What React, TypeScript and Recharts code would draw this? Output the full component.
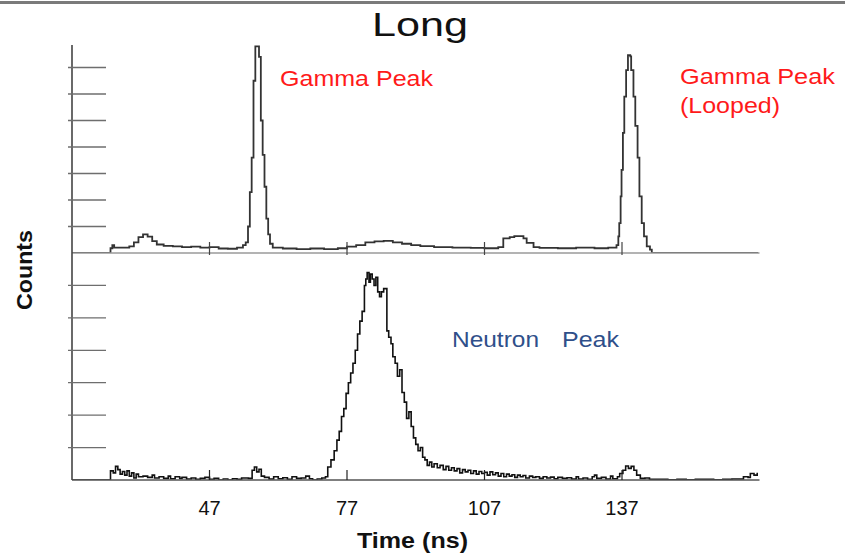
import React from 'react';
import { LineChart, Line, XAxis, YAxis } from 'recharts';

// ---- axis ticks ----
const timeTicks = [47, 77, 107, 137];
const timeDomain: [number, number] = [17, 167];
const gammaCountTicks = [1, 2, 3, 4, 5, 6, 7];
const neutronCountTicks = [1, 2, 3, 4, 5, 6];

// ---- top panel: gamma spectrum (time ns, counts in tick units) ----
const gammaPoints: [number, number][] = [
  [17, 0], [25.4, 0.18], [25.8, 0.3], [26.2, 0.2], [28, 0.2], [29.5, 0.25], [30.5, 0.4],
  [31.5, 0.6], [32.5, 0.7], [33.5, 0.62], [34.5, 0.45], [35.5, 0.32], [37, 0.27], [39, 0.25],
  [41, 0.22], [43, 0.24], [45, 0.2], [47, 0.22], [49, 0.17], [51, 0.16], [53, 0.2], [54.3, 0.3],
  [54.9, 0.4], [55.4, 1.0], [55.8, 2.3], [56.2, 3.6], [56.6, 6.5], [57.0, 7.8], [57.4, 7.8],
  [57.8, 7.4], [58.2, 5.0], [58.6, 3.7], [59.0, 2.5], [59.4, 1.3], [59.8, 0.7], [60.2, 0.35],
  [60.8, 0.2], [63, 0.17], [66, 0.15], [69, 0.17], [72, 0.15], [75, 0.18], [77, 0.24],
  [79, 0.3], [81, 0.4], [83, 0.44], [85, 0.46], [87, 0.4], [89, 0.35], [91, 0.3], [93, 0.26],
  [96, 0.22], [100, 0.2], [104, 0.19], [107, 0.18], [110, 0.22], [111.1, 0.55], [112.5, 0.6],
  [113.5, 0.64], [115.5, 0.55], [116.2, 0.38], [117.7, 0.22], [119, 0.19], [123, 0.18],
  [127, 0.2], [131, 0.18], [134, 0.2], [135.8, 0.3], [136.2, 0.63], [136.4, 1.13], [136.7, 2.14],
  [136.9, 3.14], [137.2, 4.53], [137.5, 5.9], [137.9, 6.9], [138.3, 7.47], [138.8, 7.42],
  [139.0, 6.9], [139.5, 5.9], [139.9, 4.8], [140.4, 3.6], [140.8, 2.14], [141.3, 1.13],
  [141.8, 0.63], [142.4, 0.25], [143.1, 0.13], [143.5, 0], [166.7, 0],
];

// ---- bottom panel: neutron spectrum ----
const neutronPoints: [number, number][] = [
  [17, 0], [25.4, 0.28], [26.0, 0.22], [26.5, 0.42], [27.0, 0.32], [27.5, 0.18], [28.0, 0.26],
  [28.5, 0.15], [29.0, 0.28], [29.5, 0.12], [30.0, 0.22], [30.5, 0.06], [31.0, 0.18], [31.5, 0.1],
  [32.5, 0.12], [33.5, 0.08], [34.5, 0.15], [35.0, 0.06], [36.0, 0.1], [37.0, 0.05], [38.0, 0.12],
  [38.5, 0.04], [39.5, 0.1], [40.5, 0.05], [41.0, 0.08], [42.0, 0.03], [43.0, 0.06], [44.0, 0.02],
  [45.0, 0.05], [46.0, 0.08], [47.0, 0.02], [48.0, 0.05], [49.0, 0.0], [50.0, 0.03], [51.0, 0.0],
  [52.0, 0.04], [53.0, 0.02], [54.0, 0.06], [55.5, 0.05], [56.3, 0.3], [56.8, 0.4], [57.3, 0.25],
  [57.8, 0.33], [58.3, 0.12], [59.0, 0.08], [60.0, 0.03], [61.0, 0.1], [62.0, 0.04], [63.0, 0.07],
  [64.0, 0.02], [65.0, 0.1], [66.0, 0.05], [67.0, 0.06], [68.0, 0.12], [68.8, 0.04], [69.5, 0.0],
  [70.5, 0.03], [71.5, 0.06], [72.3, 0.1], [72.8, 0.4], [73.5, 0.62], [74.2, 0.9], [74.8, 1.23],
  [75.3, 1.5], [75.8, 1.96], [76.3, 2.2], [76.8, 2.67], [77.3, 3.0], [77.8, 3.3], [78.3, 3.6],
  [78.8, 4.0], [79.3, 4.5], [79.8, 4.9], [80.3, 5.2], [80.8, 6.0], [81.1, 6.2], [81.4, 6.4],
  [81.8, 6.1], [82.1, 6.35], [82.5, 6.2], [82.9, 6.0], [83.3, 6.25], [83.7, 5.8], [84.1, 5.65],
  [84.5, 5.8], [85.0, 5.9], [85.7, 4.6], [86.1, 4.4], [86.6, 4.2], [87.0, 3.8], [87.5, 3.6],
  [88.0, 3.2], [88.5, 3.4], [89.0, 2.7], [89.5, 2.4], [90.0, 1.9], [90.5, 2.1], [91.0, 1.65],
  [91.5, 1.3], [92.0, 1.1], [92.5, 0.9], [93.0, 1.0], [93.5, 0.7], [94.0, 0.62], [94.5, 0.45],
  [95.0, 0.55], [95.5, 0.4], [96.0, 0.5], [96.7, 0.38], [97.3, 0.45], [98.0, 0.32], [98.6, 0.42],
  [99.2, 0.3], [99.8, 0.38], [100.4, 0.28], [101.0, 0.35], [101.6, 0.22], [102.2, 0.32],
  [102.8, 0.25], [103.4, 0.3], [104.0, 0.2], [104.6, 0.28], [105.2, 0.18], [105.8, 0.26],
  [106.4, 0.2], [107.0, 0.24], [107.6, 0.15], [108.2, 0.25], [108.8, 0.16], [109.4, 0.22],
  [110.0, 0.12], [110.6, 0.2], [111.2, 0.1], [111.8, 0.18], [112.4, 0.12], [113.0, 0.16],
  [113.6, 0.08], [114.2, 0.15], [114.8, 0.1], [115.4, 0.14], [116.0, 0.06], [116.8, 0.12],
  [117.5, 0.08], [118.2, 0.1], [119.0, 0.05], [119.8, 0.1], [120.6, 0.06], [121.4, 0.09],
  [122.2, 0.04], [123.0, 0.08], [124.0, 0.05], [125.0, 0.07], [126.0, 0.03], [127.0, 0.1],
  [127.5, 0.03], [128.5, 0.06], [129.5, 0.02], [130.5, 0.1], [131.0, 0.15], [131.5, 0.05],
  [132.5, 0.08], [133.5, 0.03], [134.5, 0.12], [135.0, 0.04], [136.0, 0.1], [136.5, 0.2],
  [137.2, 0.3], [137.8, 0.43], [138.4, 0.36], [139.0, 0.42], [139.6, 0.3], [140.2, 0.15],
  [141.0, 0.05], [142.0, 0.06], [143.0, 0.02], [145.0, 0.02], [147.0, 0.01], [149.0, 0.02],
  [151.0, 0.01], [153.0, 0.02], [155.0, 0.02], [157.0, 0.01], [159.0, 0.02], [161.0, 0.03],
  [162.5, 0.03], [163.5, 0.1], [164.5, 0.08], [165.0, 0.2], [165.8, 0.15], [166.5, 0.22],
];

const gammaData = gammaPoints.map(([t, c]) => ({ t, c }));
const neutronData = neutronPoints.map(([t, c]) => ({ t, c }));

const FONT = '"Liberation Sans", Arial, Helvetica, sans-serif';
const W = 845;

const InnerYTick = (props: any) => {
  const { x, y } = props;
  return <line x1={x} x2={x + 38} y1={y} y2={y} stroke="#6e6e6e" strokeWidth={1.3} />;
};

const TopXTick = (props: any) => {
  const { x, y } = props;
  return <line x1={x} x2={x} y1={y - 11} y2={y + 2} stroke="#444" strokeWidth={1.2} />;
};

const BottomXTick = (props: any) => {
  const { x, y, payload } = props;
  return (
    <g>
      <line x1={x} x2={x} y1={y - 10} y2={y} stroke="#222" strokeWidth={1.2} />
      <text x={x} y={y + 35} textAnchor="middle" fontFamily={FONT} fontSize={20} fill="#111">
        {payload.value}
      </text>
    </g>
  );
};

export default function App() {
  return (
    <div style={{ position: 'absolute', left: 0, top: 0, width: W, height: 555, background: '#fff', overflow: 'hidden' }}>
      {/* top panel */}
      <div style={{ position: 'absolute', left: 0, top: 0 }}>
        <LineChart width={W} height={270} data={gammaData} margin={{ top: 45, right: 85.5, bottom: 7, left: 0 }}>
          <XAxis
            dataKey="t"
            type="number"
            domain={timeDomain}
            ticks={timeTicks}
            allowDataOverflow
            height={10}
            tickSize={0}
            tickMargin={0}
            tickLine={false}
            axisLine={{ stroke: '#9a9a9a', strokeWidth: 1.5 }}
            tick={<TopXTick />}
          />
          <YAxis
            type="number"
            domain={[0, 7.85]}
            ticks={gammaCountTicks}
            width={72}
            tickSize={4}
            tickMargin={0}
            tickLine={false}
            axisLine={{ stroke: '#444', strokeWidth: 1.6 }}
            tick={<InnerYTick />}
            allowDataOverflow
          />
          <Line type="stepAfter" dataKey="c" stroke="#333" strokeWidth={1.8} dot={false} isAnimationActive={false} />
        </LineChart>
      </div>
      {/* bottom panel */}
      <div style={{ position: 'absolute', left: 0, top: 0 }}>
        <LineChart width={W} height={555} data={neutronData} margin={{ top: 253, right: 85.5, bottom: 65, left: 0 }}>
          <XAxis
            dataKey="t"
            type="number"
            domain={timeDomain}
            ticks={timeTicks}
            allowDataOverflow
            height={10}
            tickSize={0}
            tickMargin={0}
            tickLine={false}
            axisLine={{ stroke: '#555', strokeWidth: 1.5 }}
            tick={<BottomXTick />}
          />
          <YAxis
            type="number"
            domain={[0, 7]}
            ticks={neutronCountTicks}
            width={72}
            tickSize={4}
            tickMargin={0}
            tickLine={false}
            axisLine={{ stroke: '#444', strokeWidth: 1.6 }}
            tick={<InnerYTick />}
            allowDataOverflow
          />
          <Line type="stepAfter" dataKey="c" stroke="#111" strokeWidth={1.6} dot={false} isAnimationActive={false} />
        </LineChart>
      </div>
      {/* text overlay */}
      <svg width={W} height={555} style={{ position: 'absolute', left: 0, top: 0, pointerEvents: 'none' }}>
        <rect x={0} y={1} width={W} height={3} fill="#7a7a7a" />
        <text x={372} y={36} fontFamily={FONT} fontSize={33} fill="#111" textLength={96} lengthAdjust="spacingAndGlyphs">Long</text>
        <text x={280} y={86} fontFamily={FONT} fontSize={22} fill="#ff1a1a" textLength={153} lengthAdjust="spacingAndGlyphs">Gamma Peak</text>
        <text x={680} y={84} fontFamily={FONT} fontSize={22} fill="#ff1a1a" textLength={155} lengthAdjust="spacingAndGlyphs">Gamma Peak</text>
        <text x={680} y={113} fontFamily={FONT} fontSize={22} fill="#ff1a1a" textLength={100} lengthAdjust="spacingAndGlyphs">(Looped)</text>
        <text x={452} y={347} fontFamily={FONT} fontSize={22} fill="#2f4f8a" textLength={87} lengthAdjust="spacingAndGlyphs">Neutron</text>
        <text x={562} y={347} fontFamily={FONT} fontSize={22} fill="#2f4f8a" textLength={57} lengthAdjust="spacingAndGlyphs">Peak</text>
        <text x={357} y={548} fontFamily={FONT} fontSize={22} fontWeight="bold" fill="#111" textLength={111} lengthAdjust="spacingAndGlyphs">Time (ns)</text>
        <text
          x={0}
          y={0}
          transform="translate(32 310) rotate(-90)"
          fontFamily={FONT}
          fontSize={22}
          fontWeight="bold"
          fill="#111"
          textLength={80}
          lengthAdjust="spacingAndGlyphs"
        >
          Counts
        </text>
      </svg>
    </div>
  );
}
